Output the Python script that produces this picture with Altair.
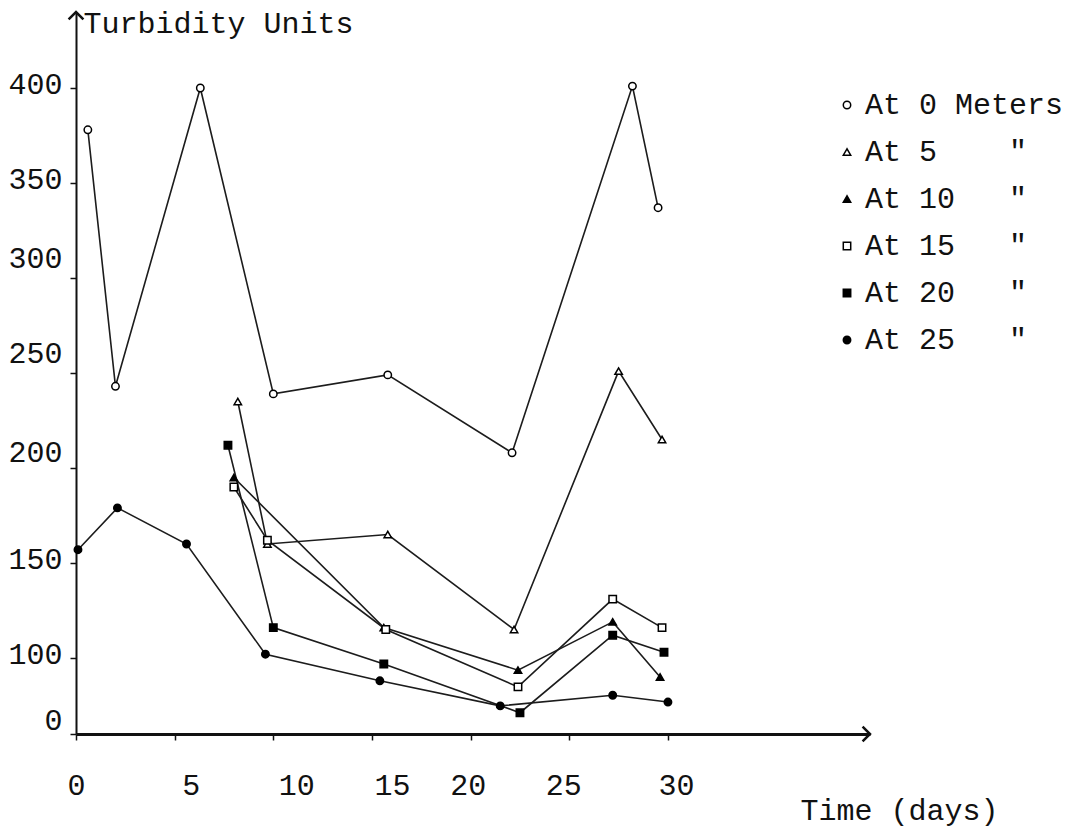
import altair as alt
import pandas as pd

NB = "\u00a0"
SERIES = [
    "At 0 Meters",
    "At 5" + NB * 4 + '"',
    "At 10" + NB * 3 + '"',
    "At 15" + NB * 3 + '"',
    "At 20" + NB * 3 + '"',
    "At 25" + NB * 3 + '"',
]

DAYS_0M = [0.6, 2.0, 6.3, 10.0, 15.8, 22.1, 28.2, 29.5]
TURB_0M = [378, 243, 400, 239, 249, 208, 401, 337]
DAYS_5M = [8.2, 9.7, 15.8, 22.2, 27.5, 29.7]
TURB_5M = [235, 160, 165, 115, 251, 215]
DAYS_10M = [8.0, 15.6, 22.4, 27.2, 29.6]
TURB_10M = [195, 116, 84, 119, 75]
DAYS_15M = [8.0, 9.7, 15.7, 22.4, 27.2, 29.7]
TURB_15M = [190, 162, 115, 62, 131, 116]
DAYS_20M = [7.7, 10.0, 15.6, 22.5, 27.2, 29.8]
TURB_20M = [212, 116, 92, 28, 112, 103]
DAYS_25M = [0.1, 2.1, 5.6, 9.6, 15.4, 21.5, 27.2, 30.0]
TURB_25M = [157, 179, 160, 102, 70, 37, 51, 42]

X_TICKS = [0, 5, 10, 15, 20, 25, 30]
Y_TICKS = [0, 100, 150, 200, 250, 300, 350, 400]

SHAPES = ["circle", "triangle-up", "triangle-up", "square", "square", "circle"]
FILLS = ["white", "white", "black", "white", "black", "black"]
STROKES = ["black"] * 6

rows = []
for name, days, vals in zip(
    SERIES,
    [DAYS_0M, DAYS_5M, DAYS_10M, DAYS_15M, DAYS_20M, DAYS_25M],
    [TURB_0M, TURB_5M, TURB_10M, TURB_15M, TURB_20M, TURB_25M],
):
    for d, v in zip(days, vals):
        rows.append({"series": name, "day": d, "turbidity": v})
df = pd.DataFrame(rows)

X_MAX = 40.24
Y_TOP = 440
arrow_up = pd.DataFrame({"day": [0], "turbidity": [Y_TOP]})
arrow_right = pd.DataFrame({"day": [X_MAX], "turbidity": [0]})

FONT = "Liberation Mono"
INK = "#111111"

x_scale = alt.Scale(domain=[0, X_MAX], nice=False, zero=False)
y_scale = alt.Scale(domain=[0, 100, 400, Y_TOP], range=[722, 646, 76, 0], nice=False, zero=False)

x_axis = alt.Axis(
    values=X_TICKS, title="Time (days)", grid=False,
    labelFont=FONT, labelFontSize=30, labelColor=INK, labelFlush=False, labelOverlap=False,
    labelBaseline="middle", labelPadding=45,
    labelOffset={"condition": [
        {"test": "datum.value == 5", "value": 16},
        {"test": "datum.value == 10", "value": 23},
        {"test": "datum.value == 15", "value": 20},
        {"test": "datum.value == 20", "value": -3},
        {"test": "datum.value == 25", "value": -6},
        {"test": "datum.value == 30", "value": 8},
    ], "value": 0},
    tickSize=6, tickColor=INK, tickWidth=1.5,
    domainColor=INK, domainWidth=3,
    titleFont=FONT, titleFontSize=30, titleFontWeight="normal", titleColor=INK,
    titleAngle=0, titleAlign="left", titleBaseline="middle", titleX=724, titleY=76,
)
y_axis = alt.Axis(
    values=Y_TICKS, title="Turbidity Units", grid=False,
    labelFont=FONT, labelFontSize=30, labelColor=INK, labelFlush=False, labelOverlap=False,
    labelPadding=8,
    labelOffset={"condition": [
        {"test": "datum.value == 300 || datum.value == 250", "value": -20},
        {"test": "datum.value == 200", "value": -16},
        {"test": "datum.value == 0", "value": -14},
    ], "value": -4},
    tickSize=6, tickColor=INK, tickWidth=1.5,
    domainColor=INK, domainWidth=2,
    titleFont=FONT, titleFontSize=30, titleFontWeight="normal", titleColor=INK,
    titleAngle=0, titleAlign="left", titleBaseline="middle", titleX=7, titleY=11,
)

X = alt.X("day:Q", scale=x_scale, axis=x_axis)
Y = alt.Y("turbidity:Q", scale=y_scale, axis=y_axis)

leg = alt.Legend(
    title=None, orient="none", legendX=756, legendY=78, padding=0,
    labelFont=FONT, labelFontSize=30, labelColor=INK, labelLimit=0, labelOffset=3,
    symbolSize=55, symbolStrokeWidth=1.5, rowPadding=17,
)

lines = alt.Chart(df).mark_line(color="#1c1c1c", strokeWidth=1.6).encode(
    x=X, y=Y, detail="series:N"
)
points = alt.Chart(df).mark_point(size=55, strokeWidth=1.5, opacity=1).encode(
    x=X, y=Y,
    shape=alt.Shape("series:N", scale=alt.Scale(domain=SERIES, range=SHAPES), legend=leg),
    fill=alt.Fill("series:N", scale=alt.Scale(domain=SERIES, range=FILLS), legend=leg),
    stroke=alt.Stroke("series:N", scale=alt.Scale(domain=SERIES, range=STROKES), legend=leg),
)
up = alt.Chart(arrow_up).mark_point(
    shape="M-1,1L0,0L1,1", size=220, stroke=INK, strokeWidth=2.5, filled=False, opacity=1
).encode(x=X, y=Y)
right = alt.Chart(arrow_right).mark_point(
    shape="M-1,-1L0,0L-1,1", size=220, stroke=INK, strokeWidth=2.5, filled=False, opacity=1
).encode(x=X, y=Y)

chart = alt.layer(lines, points, up, right).properties(
    width=794, height=722,
    padding={"left": 68, "top": 4, "right": 201, "bottom": 95},
    autosize=alt.AutoSizeParams(type="none"),
    background="white",
).configure_view(stroke=None)

chart.save("out.html", embed_options={"renderer": "svg", "actions": False})
